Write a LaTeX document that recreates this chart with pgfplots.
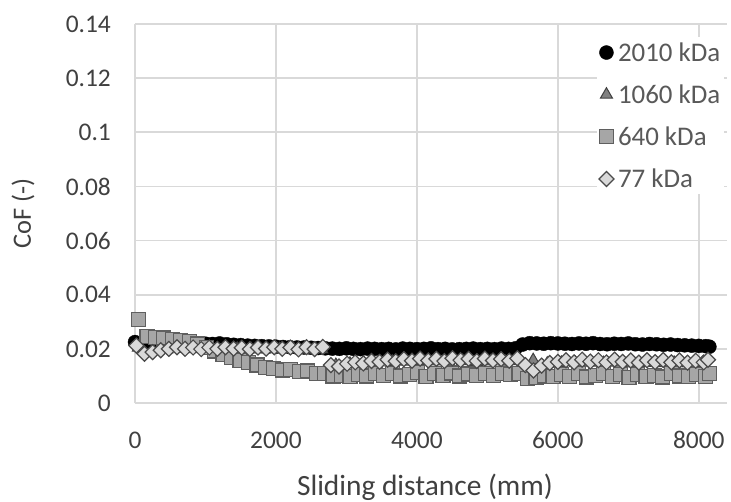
\documentclass[border=0pt]{standalone}
\usepackage{pgfplots}
\pgfplotsset{compat=1.18}
\usepackage{fontspec}
\setmainfont{Carlito}
\definecolor{gridc}{HTML}{D9D9D9}
\definecolor{txt}{HTML}{404040}
\definecolor{lgtxt}{HTML}{595959}
\definecolor{sqfill}{HTML}{A6A6A6}
\definecolor{sqedge}{HTML}{5F5F5F}
\definecolor{dmfill}{HTML}{D9D9D9}
\definecolor{dmedge}{HTML}{4A4A4A}
\definecolor{trfill}{HTML}{808080}
\begin{document}
\begin{tikzpicture}
\useasboundingbox (0,0) rectangle (731bp,502bp);
\begin{axis}[
  at={(135bp,99bp)}, anchor=south west,
  scale only axis, width=592bp, height=379bp,
  xmin=0, xmax=8400, ymin=0, ymax=0.14,
  xtick={0,2000,4000,6000,8000},
  ytick={0,0.02,0.04,0.06,0.08,0.1,0.12,0.14},
  yticklabels={0,0.02,0.04,0.06,0.08,0.1,0.12,0.14},
  scaled x ticks=false, scaled y ticks=false,
  /pgf/number format/1000 sep={},
  /pgf/number format/assume math mode=true,
  grid=major,
  major grid style={draw=gridc, line width=1.6bp},
  axis line style={draw=gridc, line width=1.6bp},
  axis x line*=bottom, axis y line*=left,
  major tick length=0pt,
  tick label style={font=\fontsize{25.5}{30}\selectfont, text=txt, inner sep=0pt},
  xticklabel style={anchor=center, yshift=-37bp},
  yticklabel style={anchor=east, xshift=-24bp},
  xlabel={Sliding distance (mm)},
  ylabel={CoF (-)},
  xlabel style={at={(rel axis cs:0.5,0)}, anchor=center, yshift=-84bp, xshift=-6bp, font=\fontsize{29.5}{33}\selectfont, text=txt},
  ylabel style={at={(rel axis cs:0,0.5)}, anchor=center, yshift=112bp, font=\fontsize{26.5}{30}\selectfont, text=txt},
  legend style={at={(rel axis cs:0.78,0.965)}, anchor=north west, draw=none, fill=white,
    font=\fontsize{27}{31}\selectfont, text=lgtxt, row sep=18bp, inner xsep=2bp, inner ysep=3bp},
  legend cell align=left,
  legend image code/.code={\draw[#1] plot coordinates {(0.22cm,0cm)}; \path (0cm,0cm) (0.55cm,0cm);},
  clip=false,
]
\addplot[only marks, mark=*, mark size=7bp, mark options={fill=black, draw=black}] coordinates {
(0,.0225)(100,.0222)(200,.0224)(300,.0223)(400,.0222)(500,.0220)(600,.0221)(700,.0219)(800,.0220)(900,.0218)
(1000,.0219)(1100,.0218)(1200,.0220)(1300,.0217)(1400,.0215)(1500,.0214)(1600,.0212)(1700,.0211)(1800,.0210)(1900,.0209)
(2000,.0208)(2100,.0207)(2200,.0206)(2300,.0205)(2400,.0205)(2500,.0204)(2600,.0203)(2700,.0202)(2800,.0201)(2900,.0200)
(3000,.0202)(3100,.0200)(3200,.0199)(3300,.0201)(3400,.0200)(3500,.0199)(3600,.0200)(3700,.0198)(3800,.0201)(3900,.0200)
(4000,.0199)(4100,.0200)(4200,.0202)(4300,.0199)(4400,.0200)(4500,.0198)(4600,.0199)(4700,.0200)(4800,.0201)(4900,.0199)
(5000,.0200)(5100,.0199)(5200,.0201)(5300,.0200)(5400,.0202)(5500,.0216)(5600,.0221)(5700,.0220)(5800,.0219)(5900,.0221)
(6000,.0220)(6100,.0219)(6200,.0218)(6300,.0220)(6400,.0219)(6500,.0221)(6600,.0218)(6700,.0217)(6800,.0219)(6900,.0218)
(7000,.0220)(7100,.0217)(7200,.0216)(7300,.0218)(7400,.0217)(7500,.0215)(7600,.0216)(7700,.0214)(7800,.0213)(7900,.0212)
(8000,.0211)(8100,.0210)(8150,.0208)};
\addlegendentry{2010 kDa}
\addplot[only marks, mark=triangle*, mark size=7bp, mark options={fill=trfill, draw=txt, line width=1bp}] coordinates {
(50,.0205)(250,.0195)(450,.0198)(650,.0200)(850,.0199)(1050,.0200)(1250,.0199)(1450,.0200)(1650,.0198)(1850,.0199)
(2050,.0198)(2250,.0199)(2450,.0197)(2650,.0198)(2850,.0140)(3050,.0145)(3250,.0148)(3450,.0150)(3650,.0152)(3850,.0153)
(4050,.0155)(4250,.0154)(4450,.0153)(4650,.0155)(4850,.0152)(5050,.0154)(5250,.0153)(5450,.0155)(5650,.0158)(5850,.0145)
(6050,.0148)(6250,.0147)(6450,.0149)(6650,.0147)(6850,.0149)(7050,.0146)(7250,.0148)(7450,.0147)(7650,.0148)(7850,.0146)(8050,.0147)};
\addlegendentry{1060 kDa}
\addplot[only marks, mark=square*, mark size=7bp, mark options={fill=sqfill, draw=sqedge, line width=1.2bp}] coordinates {
(50,.0307)(170,.0245)(290,.0242)(410,.0240)(530,.0236)(650,.0232)(770,.0226)(890,.0218)(1010,.0205)(1130,.0192)
(1250,.0180)(1370,.0168)(1490,.0158)(1610,.0150)(1730,.0140)(1850,.0132)(1970,.0128)(2090,.0122)(2210,.0125)(2330,.0115)
(2450,.0118)(2570,.0110)(2690,.0108)(2810,.0100)(2930,.0102)(3050,.0098)(3170,.0105)(3290,.0100)(3410,.0108)(3530,.0102)
(3650,.0110)(3770,.0100)(3890,.0106)(4010,.0112)(4130,.0099)(4250,.0108)(4370,.0102)(4490,.0111)(4610,.0100)(4730,.0107)
(4850,.0103)(4970,.0110)(5090,.0101)(5210,.0108)(5330,.0104)(5450,.0110)(5570,.0090)(5690,.0093)(5810,.0100)(5930,.0097)
(6050,.0105)(6170,.0098)(6290,.0108)(6410,.0096)(6530,.0102)(6650,.0110)(6770,.0097)(6890,.0104)(7010,.0095)(7130,.0106)
(7250,.0099)(7370,.0103)(7490,.0096)(7610,.0108)(7730,.0100)(7850,.0097)(7970,.0105)(8090,.0099)(8150,.0108)};
\addlegendentry{640 kDa}
\addplot[only marks, mark=square*, mark size=5.3bp, mark options={rotate=45, fill=dmfill, draw=dmedge, line width=1.2bp}] coordinates {
(20,.0212)(135,.0182)(250,.0188)(365,.0195)(480,.0200)(595,.0206)(710,.0200)(825,.0205)(940,.0199)(1055,.0205)
(1170,.0200)(1285,.0206)(1400,.0201)(1515,.0204)(1630,.0199)(1745,.0205)(1860,.0201)(1975,.0206)(2090,.0200)(2205,.0205)
(2320,.0198)(2435,.0206)(2550,.0199)(2665,.0207)(2780,.0140)(2895,.0135)(3010,.0145)(3125,.0150)(3240,.0146)(3355,.0155)
(3470,.0152)(3585,.0160)(3700,.0154)(3815,.0162)(3930,.0156)(4045,.0164)(4160,.0157)(4275,.0163)(4390,.0155)(4505,.0165)
(4620,.0158)(4735,.0163)(4850,.0155)(4965,.0164)(5080,.0157)(5195,.0162)(5310,.0156)(5425,.0165)(5540,.0140)(5655,.0120)
(5770,.0138)(5885,.0148)(6000,.0152)(6115,.0158)(6230,.0150)(6345,.0160)(6460,.0153)(6575,.0158)(6690,.0150)(6805,.0160)
(6920,.0152)(7035,.0157)(7150,.0149)(7265,.0158)(7380,.0151)(7495,.0159)(7610,.0150)(7725,.0157)(7840,.0149)(7955,.0156)
(8070,.0150)(8130,.0160)};
\addlegendentry{77 kDa}
\end{axis}
\end{tikzpicture}
\end{document}
